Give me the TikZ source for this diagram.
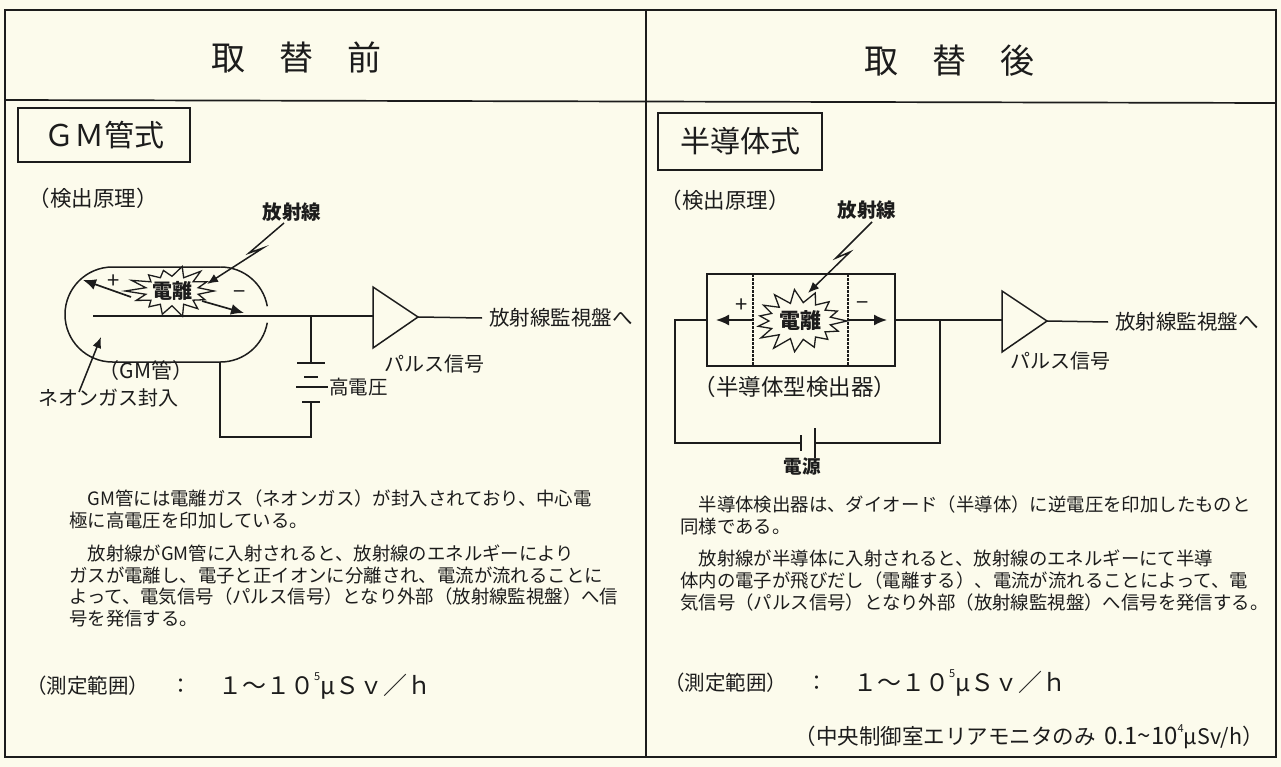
\documentclass[tikz,border=0pt]{standalone}
\usepackage{fontspec}
\setmainfont{Noto Sans CJK JP}
\usetikzlibrary{arrows.meta,calc}
\definecolor{paper}{RGB}{252,251,236}
\definecolor{ink}{RGB}{28,28,28}
\newcommand{\setfs}[1]{\fontsize{#1}{#1}\selectfont}
\newcommand{\supfive}[1]{\raisebox{0.55em}{\setfs{11}#1}}

\begin{document}
\begin{tikzpicture}[x=1pt,y=-1pt,
  every node/.style={inner sep=0pt, text=ink},
  frameline/.style={draw=ink, line width=1.7pt},
  wire/.style={draw=ink, line width=1.5pt},
  plate/.style={draw=ink, line width=1.6pt},
  ray/.style={draw=ink, line width=1.5pt, -{Latex[length=11pt,width=9pt]}},
  ion/.style={draw=ink, line width=1.7pt, -{Latex[length=13pt,width=11pt]}},
  burst/.style={draw=ink, line width=1.3pt, fill=paper, line join=miter},
  amp/.style={draw=ink, line width=1.5pt, fill=paper},
  title/.style={font=\setfs{34}},
  typebox/.style={draw=ink, line width=1.7pt},
  lab/.style={font=\setfs{20}},
  body/.style={anchor=west, font=\setfs{18.4}},
]
% page and frame
\path[fill=paper] (0,0) rectangle (1281,767);
\draw[frameline] (5,10) rectangle (1276,757);
\draw[frameline] (646,10) -- (646,757);
\draw[frameline] (5,100) -- (1276,103);

% column headings
\node[title] (headL) at (296,57) {取　替　前};
\node[title] (headR) at (949,61) {取　替　後};

% detector type boxes
\node[typebox, minimum width=172pt, minimum height=54pt, font=\setfs{30}] (typeL) at (104,135) {ＧＭ管式};
\node[typebox, minimum width=164pt, minimum height=57pt, font=\setfs{30}] (typeR) at (740,141.5) {半導体式};

% ---------------- GM tube ----------------
\node[font=\setfs{21.5}] (prinL) at (93,198) {（検出原理）};

% tube envelope (open where the centre electrode leaves)
\draw[wire] (220.5,267) -- (112.5,267)
  arc[start angle=270, end angle=90, radius=47.5] -- (220.5,362)
  arc[start angle=90, end angle=10, radius=47.5];
\draw[wire] (220.5,267) arc[start angle=270, end angle=350, radius=47.5];

% circuit
\coordinate (wL0) at (93,316);
\coordinate (ampLi) at (373,316);
\coordinate (ampLa) at (373,287);
\coordinate (ampLb) at (373,348);
\coordinate (ampLo) at (418,317);
\coordinate (jL) at (311,316);
\coordinate (batLtop) at (311,363);
\coordinate (batLbot) at (311,402);
\coordinate (cL1) at (311,437);
\coordinate (cL2) at (220,437);
\coordinate (tubeBot) at (220,362);

\draw[wire] (wL0) -- (ampLi);
\draw[amp] (ampLa) -- (ampLo) -- (ampLb) -- cycle;
\node[lab, anchor=west, font=\setfs{20.5}, inner xsep=7pt] (outL) at (482,318) {放射線監視盤へ};
\draw[wire] (ampLo) -- (outL.west);
\node[lab] (pulseL) at (434,364) {パルス信号};

% high-voltage battery
\draw[wire] (jL) -- (batLtop);
\draw[plate] (297,363) -- (325,363);
\draw[plate] (304,377) -- (318,377);
\draw[plate] (296,387) -- (328,387);
\draw[plate] (302,402) -- (320,402);
\draw[wire] (batLbot) -- (cL1) -- (cL2) -- (tubeBot);
\node[lab, anchor=west, font=\setfs{19.5}] (hvL) at (329,387) {高電圧};

% ionisation burst
\coordinate (burstL) at (172,291);
\draw[burst] ($(burstL)+(0:42 and 23)$)
  \foreach \i in {1,...,27}{ -- ($(burstL)+({\i*360/28}:{42*(1-0.36*mod(\i,2)+0.13*sin(\i*137)*(1-mod(\i,2)))} and {23*(1-0.36*mod(\i,2)+0.13*sin(\i*137)*(1-mod(\i,2)))})$) } -- cycle;
\node[font=\setfs{20}\bfseries] (ionL) at (burstL) {電離};

% ion drift arrows
\coordinate (plusTailL) at (131,297);
\coordinate (plusTipL) at (83,280);
\coordinate (minusTailL) at (202,301);
\coordinate (minusTipL) at (244,313);
\draw[ion] (plusTailL) -- (plusTipL);
\draw[ion] (minusTailL) -- (minusTipL);
\node[font=\setfs{22}] (plusL) at (114,282) {+};
\node[font=\setfs{22}] (minusL) at (240,295) {−};

% incoming radiation
\node[lab, font=\setfs{19.5}\bfseries] (radL) at (292,212) {放射線};
\coordinate (boltL1) at (284,223);
\coordinate (boltL2) at (249,253);
\coordinate (boltL3) at (263,248);
\coordinate (boltL4) at (207,284);
\draw[ray] (boltL1) -- (boltL2) -- (boltL3) -- (boltL4);

% labels of the tube
\node[font=\setfs{21}] (gmL) at (146,371) {（GM管）};
\node[lab] (neonL) at (108,398) {ネオンガス封入};
\coordinate (neonTail) at (79,392);
\coordinate (neonTip) at (101,337);
\draw[ray] (neonTail) -- (neonTip);

% ---------------- semiconductor detector ----------------
\node[font=\setfs{21.5}] (prinR) at (725,200) {（検出原理）};

\node[draw=ink, line width=1.5pt, minimum width=188pt, minimum height=92pt] (det) at (801,320) {};
\draw[ink, line width=1.1pt, dash pattern=on 2.5pt off 1.5pt] (753,274) -- (753,366);
\draw[ink, line width=1.1pt, dash pattern=on 2.5pt off 1.5pt] (848,274) -- (848,366);

\coordinate (burstR) at (800,321);
\draw[burst] ($(burstR)+(0:47 and 28)$)
  \foreach \i in {1,...,29}{ -- ($(burstR)+({\i*360/30}:{47*(1-0.34*mod(\i,2)+0.13*sin(\i*151)*(1-mod(\i,2)))} and {28*(1-0.34*mod(\i,2)+0.13*sin(\i*151)*(1-mod(\i,2)))})$) } -- cycle;
\node[font=\setfs{21}\bfseries] (ionR) at (burstR) {電離};

\coordinate (plusTailR) at (752,320);
\coordinate (plusTipR) at (716,320);
\coordinate (minusTailR) at (849,320);
\coordinate (minusTipR) at (887,320);
\draw[ion] (plusTailR) -- (plusTipR);
\draw[ion] (minusTailR) -- (minusTipR);
\node[font=\setfs{22}] (plusR) at (742,306) {+};
\node[font=\setfs{22}] (minusR) at (863,306) {−};

\node[lab, font=\setfs{19.5}\bfseries] (radR) at (867,210) {放射線};
\coordinate (boltR1) at (872,222);
\coordinate (boltR2) at (836,258);
\coordinate (boltR3) at (850,252);
\coordinate (boltR4) at (808,293);
\draw[ray] (boltR1) -- (boltR2) -- (boltR3) -- (boltR4);

\node[font=\setfs{22.5}] (detName) at (795,387) {（半導体型検出器）};

% bias circuit
\coordinate (wR1) at (675,320);
\coordinate (wR2) at (675,443);
\coordinate (bR1) at (801,443);
\coordinate (bR2) at (815,443);
\coordinate (wR3) at (940,443);
\coordinate (jR) at (940,320);
\coordinate (ampRi) at (1002,320);
\coordinate (ampRa) at (1002,291);
\coordinate (ampRb) at (1002,352);
\coordinate (ampRo) at (1047,321);
\draw[wire] (det.west) -- (wR1) -- (wR2) -- (bR1);
\draw[plate] (801,435) -- (801,451);
\draw[plate] (815,428) -- (815,458);
\draw[wire] (bR2) -- (wR3) -- (jR);
\draw[wire] (det.east) -- (ampRi);
\node[font=\setfs{18.5}\bfseries] (srcR) at (802,467) {電源};

\draw[amp] (ampRa) -- (ampRo) -- (ampRb) -- cycle;
\node[lab, anchor=west, font=\setfs{20.5}, inner xsep=7pt] (outR) at (1108,322) {放射線監視盤へ};
\draw[wire] (ampRo) -- (outR.west);
\node[lab] (pulseR) at (1060,361) {パルス信号};

% ---------------- explanations ----------------
\node[body] (tL1) at (69,499) {　GM管には電離ガス（ネオンガス）が封入されており、中心電};
\node[body] (tL2) at (69,521) {極に高電圧を印加している。};
\node[body] (tL3) at (69,553) {　放射線がGM管に入射されると、放射線のエネルギーにより};
\node[body] (tL4) at (69,575) {ガスが電離し、電子と正イオンに分離され、電流が流れることに};
\node[body] (tL5) at (69,597) {よって、電気信号（パルス信号）となり外部（放射線監視盤）へ信};
\node[body] (tL6) at (69,619) {号を発信する。};

\node[body] (tR1) at (680,505) {　半導体検出器は、ダイオード（半導体）に逆電圧を印加したものと};
\node[body] (tR2) at (680,527) {同様である。};
\node[body] (tR3) at (680,558) {　放射線が半導体に入射されると、放射線のエネルギーにて半導};
\node[body] (tR4) at (680,581) {体内の電子が飛びだし（電離する）、電流が流れることによって、電};
\node[body] (tR5) at (680,603) {気信号（パルス信号）となり外部（放射線監視盤）へ信号を発信する。};

% ---------------- measuring range ----------------
\node[anchor=west, font=\setfs{20.5}] (rngL) at (26,686) {（測定範囲）};
\node[font=\setfs{21}] (colL) at (181,686) {：};
\node[anchor=west, font=\setfs{24}] (valL) at (218,686) {１～１０\supfive{5}μＳｖ／ｈ};

\node[anchor=west, font=\setfs{20.5}] (rngR) at (664,683) {（測定範囲）};
\node[font=\setfs{21}] (colR) at (817,683) {：};
\node[anchor=west, font=\setfs{24}] (valR) at (853,683) {１～１０\supfive{5}μＳｖ／ｈ};

\node[anchor=east, font=\setfs{21.5}] (noteR) at (1264,737) {（中央制御室エリアモニタのみ\hspace{0.4em}{\setfs{24}0.1\textasciitilde10}\supfive{4}μSv/h）};
\end{tikzpicture}
\end{document}
